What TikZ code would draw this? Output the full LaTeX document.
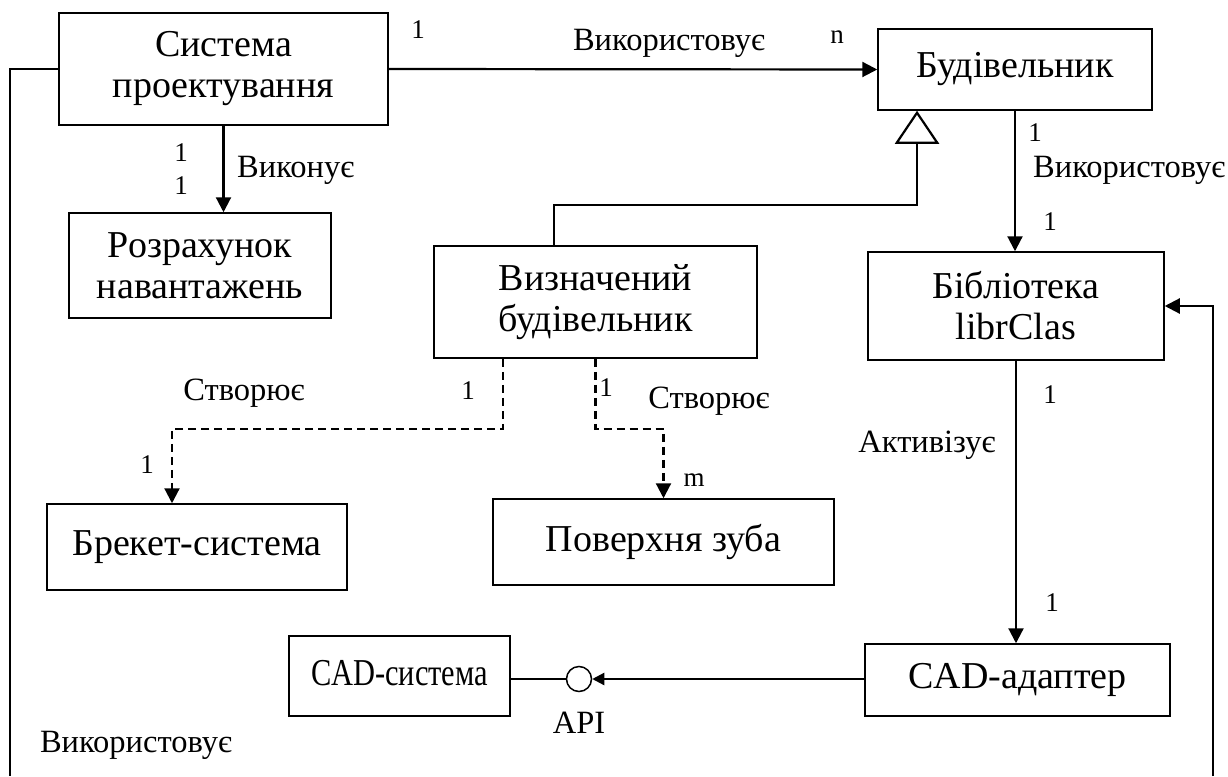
\documentclass[tikz,border=0pt]{standalone}
\usepackage{fontspec}
\setmainfont{Liberation Serif}
\usetikzlibrary{arrows.meta}
\begin{document}
\begin{tikzpicture}[x=1pt,y=-1pt,
  cls/.style={draw, line width=1.5pt, inner sep=0pt, align=center,
    font=\fontsize{38}{41}\selectfont},
  lbl/.style={inner sep=0pt, font=\fontsize{32.5}{36}\selectfont},
  num/.style={inner sep=0pt, font=\fontsize{27}{30}\selectfont},
  conn/.style={line width=2.2pt},
  dsh/.style={line width=2.2pt, dash pattern=on 8pt off 5pt},
  tip/.style={-{Triangle[length=15pt,width=15pt]}},
  smalltip/.style={-{Triangle[length=12pt,width=12pt]}},
  gentip/.style={-{Triangle[open,length=33pt,width=44pt]}}]
\useasboundingbox (0,0) rectangle (1228,776);

% classes
\node[cls, minimum width=329pt, minimum height=112pt] (sys) at (223.5,69) {Система\\проектування};
\node[cls, minimum width=274pt, minimum height=81pt] (bud) at (1015,69.5) {Будівельник};
\node[cls, minimum width=262pt, minimum height=105pt] (rozr) at (200,265.5) {Розрахунок\\навантажень};
\node[cls, minimum width=323pt, minimum height=112pt] (vyzn) at (595.5,302) {Визначений\\будівельник};
\node[cls, minimum width=296pt, minimum height=108pt] (bibl) at (1016,306) {Бібліотека\\librClas};
\node[cls, minimum width=300pt, minimum height=86pt] (brek) at (197,547) {\raisebox{8pt}{Брекет-система}};
\node[cls, minimum width=341pt, minimum height=86pt] (pov) at (663.5,542) {\raisebox{8pt}{Поверхня зуба}};
\node[cls, minimum width=221pt, minimum height=80pt] (cads) at (399.5,676) {\raisebox{7pt}{\scalebox{0.8}[1]{CAD-система}}};
\node[cls, minimum width=305pt, minimum height=72pt] (cada) at (1017.5,680) {\raisebox{3pt}{CAD-адаптер}};
\node[draw, circle, line width=1.5pt, minimum size=25pt, inner sep=0pt] (api) at (579,679) {};

% free ends of the long side lines
\coordinate (lb) at (10,776);
\coordinate (rb) at (1213,776);

% associations
\draw[conn, tip] (sys.east) -- (bud.west);
\draw[conn] (sys.west) -| (lb);
\draw[conn, tip] (sys.south) -- (sys.south |- rozr.north);
\draw[conn, tip] (bud.south) -- (bud.south |- bibl.north);
\draw[conn, tip] (rb) |- (bibl.east);
\draw[conn, tip] (bibl.south) -- (bibl.south |- cada.north);
\draw[conn, smalltip] (cada.west |- api.east) -- (api.east);
\draw[conn] (cads.east |- api.west) -- (api.west);

% generalisation
\coordinate (vgen) at ([xshift=-41.5pt]vyzn.north);
\coordinate (bgen) at ([xshift=-98pt]bud.south);
\draw[conn, gentip] (vgen) -- ++(0,-40) -| (bgen);

% creation (dashed)
\coordinate (d1) at ([xshift=-92.5pt]vyzn.south);
\coordinate (b1) at ([xshift=-25pt]brek.north);
\draw[dsh, tip] (d1) -- ++(0,70) -| (b1);
\draw[dsh, tip] (vyzn.south) -- ++(0,70) -| (pov.north);

% labels
\node[num] (m1) at (418,30) {1};
\node[lbl] (l1) at (669,43) {Використовує};
\node[num] (mn) at (837,37) {n};
\node[num] (m2) at (181,153) {1};
\node[num] (m3) at (181,186) {1};
\node[lbl, anchor=west] (l2) at (237,170) {Виконує};
\node[num] (m4) at (1035,133) {1};
\node[lbl, anchor=west] (l3) at (1033,170) {Використовує};
\node[num] (m5) at (1050,222) {1};
\node[num] (m6) at (1050,395) {1};
\node[lbl] (l4) at (927,445) {Активізує};
\node[num] (m7) at (1052,603) {1};
\node[num] (mm) at (694,480) {m};
\node[lbl] (l5) at (244,393) {Створює};
\node[num] (m8) at (468,391) {1};
\node[num] (m9) at (606,388) {1};
\node[lbl] (l6) at (709,401) {Створює};
\node[num] (m10) at (147,465) {1};
\node[lbl] (lapi) at (579,723) {API};
\node[lbl] (l7) at (136,745) {Використовує};
\end{tikzpicture}
\end{document}
